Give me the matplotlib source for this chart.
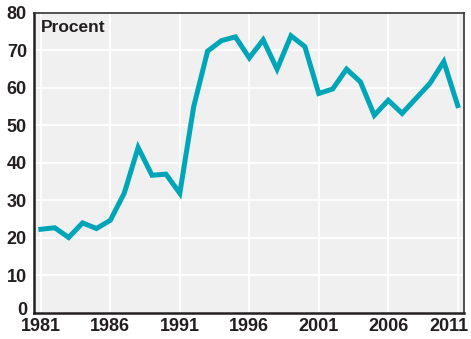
import numpy as np
import matplotlib
matplotlib.use("Agg")
import matplotlib.pyplot as plt
import matplotlib.transforms as mtransforms

years = list(range(1981, 2012))
values = [22.3, 22.7, 20.1, 24.0, 22.5, 24.7, 31.9, 44.1, 36.7, 37.0,
          31.9, 55.0, 69.8, 72.6, 73.6, 68.0, 72.8, 65.0, 73.9, 71.0,
          58.5, 59.7, 65.0, 61.6, 52.7, 56.7, 53.2, 57.2, 61.2, 67.0,
          55.3]
xticks = [1981, 1986, 1991, 1996, 2001, 2006, 2011]
yticks = [0, 10, 20, 30, 40, 50, 60, 70, 80]

plt.rcParams['font.family'] = ['Liberation Sans', 'DejaVu Sans']

fig = plt.figure(figsize=(4.71, 3.39), dpi=100)
ax = fig.add_axes([0.072, 0.077, 0.913, 0.885])
ax.set_facecolor('#f0f0f0')

ax.plot(years, values, color='#00a6b8', linewidth=3.6, solid_joinstyle='miter', zorder=3)

ax.set_xlim(1980.5, 2011.45)
ax.set_ylim(0, 80)
ax.set_xticks(xticks)
ax.set_yticks(yticks)
ax.grid(True, color='white', linewidth=1.3, zorder=0)
ax.set_axisbelow(True)

ax.tick_params(length=0, labelsize=13, labelcolor='#231f20')
ax.tick_params(axis='y', pad=5)
ax.tick_params(axis='x', pad=4)
for lab in ax.get_xticklabels() + ax.get_yticklabels():
    lab.set_fontweight('bold')

# last x label is pulled in so it fits, "0" is lifted off the x labels
xl = ax.get_xticklabels()[-1]
xl.set_transform(xl.get_transform() + mtransforms.ScaledTranslation(-9 / 100, 0, fig.dpi_scale_trans))
yl = ax.get_yticklabels()[0]
yl.set_transform(yl.get_transform() + mtransforms.ScaledTranslation(0, 4 / 100, fig.dpi_scale_trans))

for side in ['left', 'bottom']:
    ax.spines[side].set_color('#231f20')
    ax.spines[side].set_linewidth(1.8)
for side in ['top', 'right']:
    ax.spines[side].set_color('#333333')
    ax.spines[side].set_linewidth(1.2)

ax.text(0.016, 0.975, 'Procent', transform=ax.transAxes, ha='left', va='top',
        fontsize=12.5, fontweight='bold', color='#231f20')

fig.savefig('out.png', dpi=100)
